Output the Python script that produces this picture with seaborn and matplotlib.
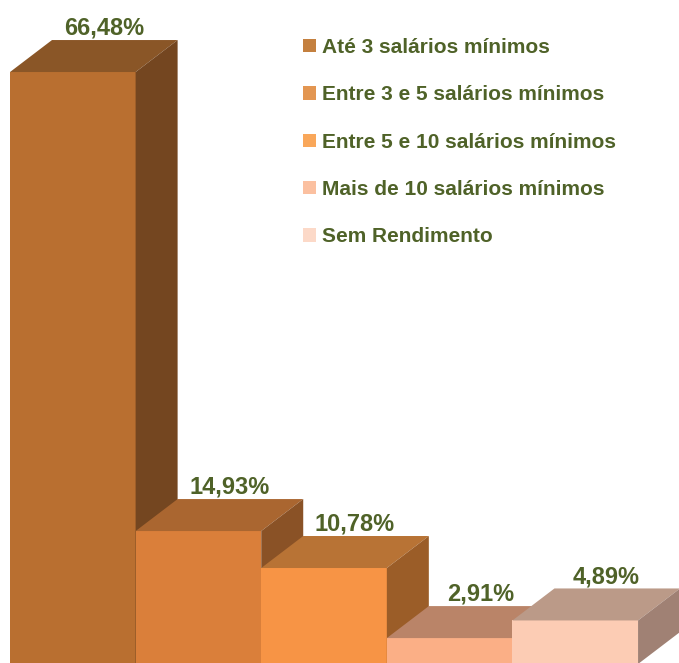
import matplotlib
matplotlib.use("Agg")
import matplotlib.pyplot as plt
import seaborn as sns
import pandas as pd
from matplotlib.patches import Polygon, Patch

# Distribuição por faixa de renda
categorias = [
    "Até 3 salários mínimos",
    "Entre 3 e 5 salários mínimos",
    "Entre 5 e 10 salários mínimos",
    "Mais de 10 salários mínimos",
    "Sem Rendimento",
]
percentuais = [66.48, 14.93, 10.78, 2.91, 4.89]
rotulos = ["66,48%", "14,93%", "10,78%", "2,91%", "4,89%"]

# Cores das faces de cada bloco 3D
cores_frente = ["#B96F30", "#DA7F3A", "#F79445", "#FBAF86", "#FCCCB4"]
cores_topo = ["#8A5627", "#AA6630", "#B87335", "#BA8468", "#BB9A88"]
cores_lado = ["#744620", "#8A5226", "#9B5D28", "#A0705A", "#A08174"]
cores_legenda = ["#C4803F", "#E39651", "#F9A75A", "#FBC0A0", "#FCD9C8"]
cor_texto = "#4F6228"

sns.set_theme(style="white")
plt.rcParams["font.family"] = ["Liberation Sans", "DejaVu Sans"]

fig = plt.figure(figsize=(6.79, 6.63), dpi=100)
ax = fig.add_axes([0, 0, 1, 1])

df = pd.DataFrame({"categoria": categorias, "pct": percentuais})
sns.barplot(data=df, x="categoria", y="pct", hue="categoria", palette=cores_frente,
            width=1.0, saturation=1, legend=False, linewidth=0, ax=ax)

ax.set_xlim(-0.5796, 4.826)
ax.set_ylim(0.112, 74.57)
ax.axis("off")

# profundidade do bloco (deslocamento para trás, em unidades dos eixos)
DX = 42 / 125.6
DY = 32 / 8.904

frentes = sorted(ax.patches, key=lambda p: p.get_x())
for i, (v, rot) in enumerate(zip(percentuais, rotulos)):
    z = 2 + 3 * i
    frentes[i].set_zorder(z)
    esq, dir_ = i - 0.5, i + 0.5
    topo = Polygon([(esq, v), (dir_, v), (dir_ + DX, v + DY), (esq + DX, v + DY)],
                   closed=True, facecolor=cores_topo[i], edgecolor="none", zorder=z + 1)
    lado = Polygon([(dir_, 0), (dir_ + DX, DY), (dir_ + DX, v + DY), (dir_, v)],
                   closed=True, facecolor=cores_lado[i], edgecolor="none", zorder=z + 1)
    ax.add_patch(topo)
    ax.add_patch(lado)
    ax.text(i + 0.247, v + DY + 0.6, rot, ha="center", va="baseline",
            fontsize=17, fontweight="bold", color=cor_texto, zorder=50)

handles = [Patch(facecolor=c, edgecolor="none") for c in cores_legenda]
fig.legend(handles, categorias, loc="upper left",
           bbox_to_anchor=(303 / 679, 1 - 38 / 663), frameon=False,
           prop={"size": 15, "weight": "bold"}, labelcolor=cor_texto,
           handlelength=0.62, handleheight=0.62, handletextpad=0.29,
           labelspacing=1.36, borderpad=0, borderaxespad=0)

fig.savefig("out.png", dpi=100)
